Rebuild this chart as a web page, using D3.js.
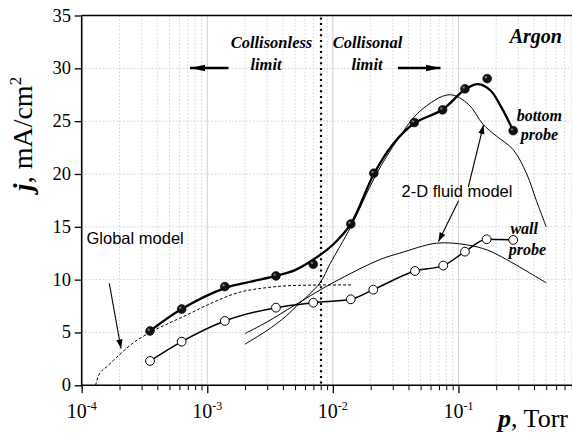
<!DOCTYPE html>
<html>
<head>
<meta charset="utf-8">
<script src="https://cdn.jsdelivr.net/npm/d3@7"></script>
<style>
  html, body { margin: 0; padding: 0; background: #fff; }
  svg { display: block; }
</style>
</head>
<body>
<svg id="chart" width="572" height="439"></svg>
<script>
// ---------- data ----------
const xTickExps = [-4, -3, -2, -1];
const yTicks = [0, 5, 10, 15, 20, 25, 30, 35];

// bottom probe measurements (filled circles)
const bottomP = [3.5e-4, 6.25e-4, 1.38e-3, 3.52e-3, 6.98e-3, 1.39e-2, 2.12e-2, 4.45e-2, 7.48e-2, 1.127e-1, 1.694e-1, 2.73e-1];
const bottomJ = [5.14, 7.22, 9.34, 10.35, 11.46, 15.27, 20.07, 24.87, 26.07, 28.06, 29.03, 24.1];
// bottom probe fitted curve (thick line)
const bottomFitP = [3.5e-4, 6.25e-4, 1.38e-3, 2.2e-3, 3.52e-3, 5e-3, 7e-3, 1e-2, 1.39e-2, 2.12e-2, 3e-2, 4.45e-2, 7.48e-2, 0.1127, 0.144, 0.18, 0.22, 0.273];
const bottomFitJ = [5.14, 7.22, 9.2, 9.8, 10.35, 10.9, 11.9, 13.3, 15.27, 20.0, 22.8, 24.8, 26.1, 28.0, 28.5, 27.9, 26.3, 24.1];

// wall probe measurements (open circles)
const wallP = [3.5e-4, 6.25e-4, 1.38e-3, 3.52e-3, 6.98e-3, 1.39e-2, 2.1e-2, 4.51e-2, 7.57e-2, 1.127e-1, 1.679e-1, 2.73e-1];
const wallJ = [2.30, 4.13, 6.09, 7.35, 7.82, 8.14, 9.05, 10.82, 11.33, 12.65, 13.82, 13.76];

// global model (dashed)
const globalP = [1.29e-4, 1.36e-4, 1.6e-4, 2e-4, 2.5e-4, 3.5e-4, 5e-4, 7e-4, 1e-3, 1.8e-3, 3e-3, 5e-3, 1e-2, 1.45e-2];
const globalJ = [0, 0.9, 1.8, 2.9, 3.9, 5.0, 5.9, 6.7, 7.6, 8.8, 9.25, 9.45, 9.5, 9.5];

// 2-D fluid model, bottom probe
const fluidBottomP = [2.0e-3, 3e-3, 4e-3, 5.15e-3, 7.9e-3, 9.5e-3, 1.39e-2, 2.2e-2, 3.3e-2, 5e-2, 8.5e-2, 0.12, 0.157, 0.2, 0.273, 0.35, 0.417, 0.5];
const fluidBottomJ = [3.9, 5.2, 6.3, 7.5, 9.7, 11.5, 15.0, 19.9, 23.3, 26.0, 27.5, 26.6, 24.7, 23.6, 22.3, 20.0, 17.5, 15.0];

// 2-D fluid model, wall probe
const fluidWallP = [2e-3, 3e-3, 5e-3, 1e-2, 2.37e-2, 3.4e-2, 6.7e-2, 0.116, 0.17, 0.242, 0.35, 0.5];
const fluidWallJ = [4.9, 6.0, 7.6, 9.7, 11.9, 12.5, 13.45, 13.3, 12.8, 11.9, 10.8, 9.7];

const limitP = 8.05e-3;

// ---------- layout ----------
const svg = d3.select("#chart");
const X0 = 81.7, X1 = 584, Y0 = 385.3, Y1 = 15.5;
const x = d3.scaleLog().domain([1e-4, 1]).range([X0, X1]);
const y = d3.scaleLinear().domain([0, 35]).range([Y0, Y1]);
const serif = "'Liberation Serif', 'Times New Roman', serif";
const sans = "'Liberation Sans', Arial, sans-serif";

svg.append("defs").append("clipPath").attr("id", "clip")
  .append("rect").attr("x", X0).attr("y", Y1).attr("width", 572 - X0).attr("height", Y0 - Y1);

const defs = svg.select("defs");
defs.append("marker").attr("id", "ahThin").attr("viewBox", "0 0 10 10")
  .attr("refX", 10).attr("refY", 5).attr("markerWidth", 9).attr("markerHeight", 9)
  .attr("markerUnits", "userSpaceOnUse").attr("orient", "auto")
  .append("path").attr("d", "M0,1.5 L10,5 L0,8.5 Z").attr("fill", "#000");
defs.append("marker").attr("id", "ahThick").attr("viewBox", "0 0 10 10")
  .attr("refX", 10).attr("refY", 5).attr("markerWidth", 15).attr("markerHeight", 15)
  .attr("markerUnits", "userSpaceOnUse").attr("orient", "auto")
  .append("path").attr("d", "M0,2.8 L10,5 L0,7.2 Z").attr("fill", "#000");

// ---------- grid ----------
const grid = svg.append("g").attr("clip-path", "url(#clip)");
const minorVals = [];
for (let e = -4; e < 0; e++) for (let k = 2; k <= 9; k++) minorVals.push(k * Math.pow(10, e));
grid.selectAll(".vminor").data(minorVals).join("line")
  .attr("x1", d => x(d)).attr("x2", d => x(d)).attr("y1", Y1).attr("y2", Y0)
  .attr("stroke", "#c8c8c8").attr("stroke-width", 0.8).attr("stroke-dasharray", "1.5,2");
grid.selectAll(".vmajor").data(xTickExps.slice(1)).join("line")
  .attr("x1", d => x(Math.pow(10, d))).attr("x2", d => x(Math.pow(10, d))).attr("y1", Y1).attr("y2", Y0)
  .attr("stroke", "#cfcfcf").attr("stroke-width", 1);
grid.selectAll(".hgrid").data(yTicks.slice(1, -1)).join("line")
  .attr("x1", X0).attr("x2", 572).attr("y1", d => y(d)).attr("y2", d => y(d))
  .attr("stroke", "#c0c0c0").attr("stroke-width", 0.8).attr("stroke-dasharray", "1.5,2");

// ---------- axes ----------
const xAxisMinor = d3.axisBottom(x).tickValues(minorVals).tickSize(5).tickFormat("");
svg.append("g").attr("transform", `translate(0,${Y0})`).call(xAxisMinor)
  .call(g => g.select(".domain").remove())
  .call(g => g.selectAll("line").attr("stroke-width", 1));
const xAxisMajor = d3.axisBottom(x).tickValues(xTickExps.map(e => Math.pow(10, e))).tickSize(8).tickFormat("");
svg.append("g").attr("transform", `translate(0,${Y0})`).call(xAxisMajor)
  .call(g => g.select(".domain").remove())
  .call(g => g.selectAll("line").attr("stroke-width", 1.3));
const yAxis = d3.axisLeft(y).tickValues(yTicks).tickSize(7).tickFormat("");
svg.append("g").attr("transform", `translate(${X0},0)`).call(yAxis)
  .call(g => g.select(".domain").remove())
  .call(g => g.selectAll("line").attr("stroke-width", 1.3));

// frame lines
svg.append("line").attr("x1", X0).attr("x2", X0).attr("y1", Y1).attr("y2", Y0 + 1)
  .attr("stroke", "#000").attr("stroke-width", 1.6);
svg.append("line").attr("x1", X0).attr("x2", 572).attr("y1", Y0).attr("y2", Y0)
  .attr("stroke", "#000").attr("stroke-width", 1.6);
svg.append("line").attr("x1", X0).attr("x2", 572).attr("y1", Y1).attr("y2", Y1)
  .attr("stroke", "#000").attr("stroke-width", 1.6);

// tick labels
svg.selectAll(".ylab").data(yTicks).join("text")
  .attr("x", 71).attr("y", d => y(d) + 6).attr("text-anchor", "end")
  .attr("font-family", serif).attr("font-size", 18.5).text(d => d);
const xl = svg.selectAll(".xlab").data(xTickExps).join("text")
  .attr("x", d => x(Math.pow(10, d))).attr("y", 418).attr("text-anchor", "middle")
  .attr("font-family", serif).attr("font-size", 20);
xl.append("tspan").text("10");
xl.append("tspan").attr("dy", -8).attr("font-size", 12).text(d => "-" + Math.abs(d));

// axis titles
const yt = svg.append("text").attr("transform", "translate(32,134) rotate(-90)")
  .attr("text-anchor", "middle").attr("font-family", serif).attr("font-size", 28);
yt.append("tspan").attr("font-weight", "bold").attr("font-style", "italic").text("j");
yt.append("tspan").text(", mA/cm");
yt.append("tspan").attr("dy", -11).attr("font-size", 17).text("2");
const xt = svg.append("text").attr("x", 568).attr("y", 427).attr("text-anchor", "end")
  .attr("font-family", serif).attr("font-size", 26);
xt.append("tspan").attr("font-weight", "bold").attr("font-style", "italic").text("p");
xt.append("tspan").text(", Torr");

// ---------- lines ----------
const plot = svg.append("g").attr("clip-path", "url(#clip)");
const mk = (P, J) => P.map((p, i) => [p, J[i]]);
const line = d3.line().x(d => x(d[0])).y(d => y(d[1])).curve(d3.curveMonotoneX);
const lineCR = d3.line().x(d => x(d[0])).y(d => y(d[1])).curve(d3.curveCatmullRom.alpha(0.5));

// vertical limit line
plot.append("line").attr("x1", x(limitP)).attr("x2", x(limitP)).attr("y1", Y1 + 2).attr("y2", Y0)
  .attr("stroke", "#000").attr("stroke-width", 2.2).attr("stroke-dasharray", "2,3.6");

plot.append("path").datum(mk(globalP, globalJ)).attr("d", line)
  .attr("fill", "none").attr("stroke", "#000").attr("stroke-width", 1).attr("stroke-dasharray", "3,2");
plot.append("path").datum(mk(fluidBottomP, fluidBottomJ)).attr("d", lineCR)
  .attr("fill", "none").attr("stroke", "#000").attr("stroke-width", 1);
plot.append("path").datum(mk(fluidWallP, fluidWallJ)).attr("d", lineCR)
  .attr("fill", "none").attr("stroke", "#000").attr("stroke-width", 1);
plot.append("path").datum(mk(wallP, wallJ)).attr("d", line)
  .attr("fill", "none").attr("stroke", "#000").attr("stroke-width", 1.5);
plot.append("path").datum(mk(bottomFitP, bottomFitJ)).attr("d", lineCR)
  .attr("fill", "none").attr("stroke", "#000").attr("stroke-width", 2.3);

// markers
plot.selectAll(".wallpt").data(mk(wallP, wallJ)).join("circle")
  .attr("cx", d => x(d[0])).attr("cy", d => y(d[1])).attr("r", 4.4)
  .attr("fill", "#fff").attr("stroke", "#000").attr("stroke-width", 1);
plot.selectAll(".botpt").data(mk(bottomP, bottomJ)).join("circle")
  .attr("cx", d => x(d[0])).attr("cy", d => y(d[1])).attr("r", 4.4)
  .attr("fill", "#111").attr("stroke", "#000").attr("stroke-width", 0.6);
plot.selectAll(".botpth").data(mk(bottomP, bottomJ)).join("circle")
  .attr("cx", d => x(d[0]) - 1.3).attr("cy", d => y(d[1]) - 1.3).attr("r", 1.2)
  .attr("fill", "#777");

// ---------- annotations ----------
const ann = svg.append("g");
const bi = (t, px, py, size, anchor) => ann.append("text").attr("x", px).attr("y", py)
  .attr("text-anchor", anchor || "middle").attr("font-family", serif).attr("font-size", size)
  .attr("font-weight", "bold").attr("font-style", "italic").text(t);
bi("Collisonless", 271.5, 48, 16.5);
bi("limit", 266, 70, 16.5);
bi("Collisonal", 367.5, 48, 16.5);
bi("limit", 367, 70, 16.5);
bi("Argon", 562, 43, 20, "end");
bi("bottom", 562, 121, 16, "end");
bi("probe", 558, 140, 16, "end");
bi("wall", 538, 234, 16, "end");
bi("probe", 546, 255, 16, "end");

ann.append("text").attr("x", 401.5).attr("y", 197).attr("font-family", sans).attr("font-size", 16.5).text("2-D fluid model");
ann.append("text").attr("x", 86.5).attr("y", 244).attr("font-family", sans).attr("font-size", 16.5).text("Global model");

const arrow = (x1, y1, x2, y2, w, m) => ann.append("line")
  .attr("x1", x1).attr("y1", y1).attr("x2", x2).attr("y2", y2)
  .attr("stroke", "#000").attr("stroke-width", w).attr("marker-end", `url(#${m})`);
arrow(228.5, 68, 190, 68, 2.6, "ahThick");
arrow(398, 68, 440.5, 68, 2.6, "ahThick");
arrow(109.3, 283.3, 121, 348.5, 1.1, "ahThin");
arrow(458.5, 201, 438.5, 241.5, 1.1, "ahThin");
arrow(468.3, 187, 483.5, 125, 1.1, "ahThin");
</script>
</body>
</html>
